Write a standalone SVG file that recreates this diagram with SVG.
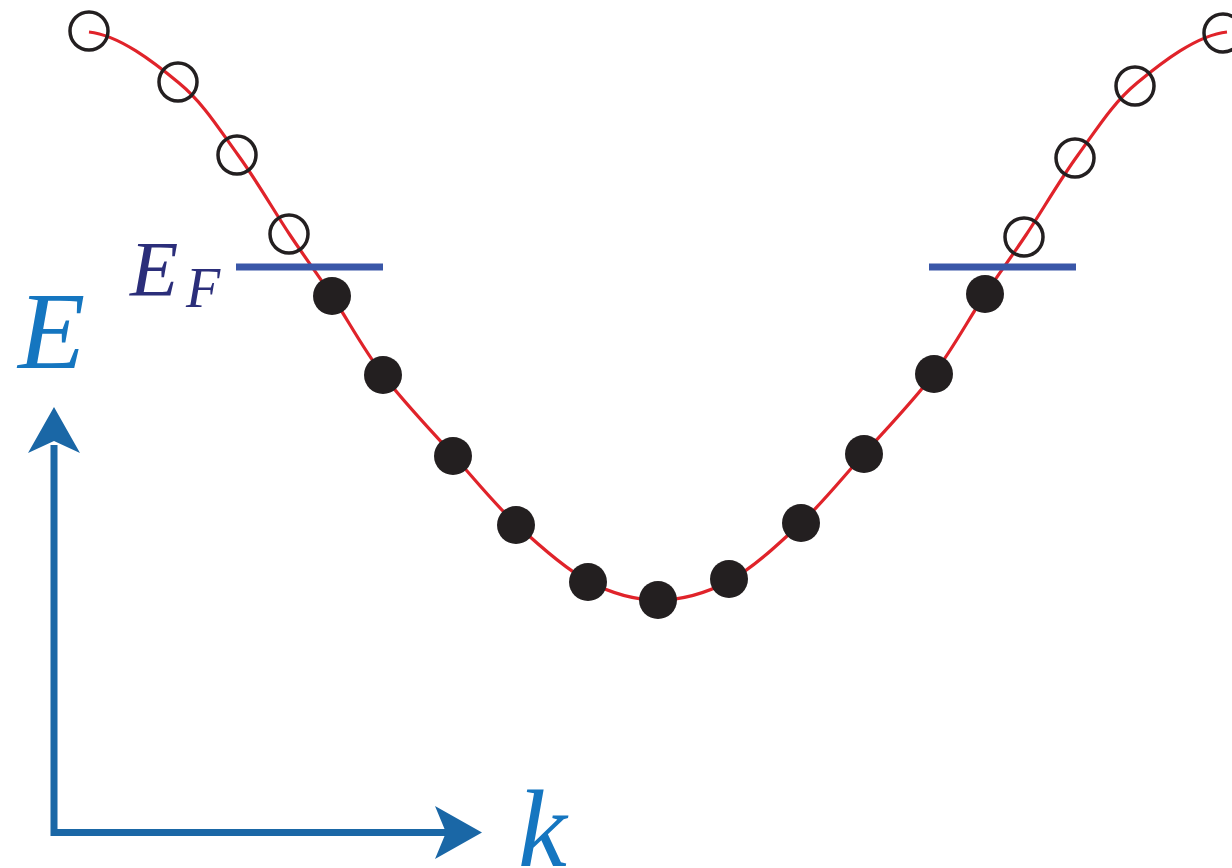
<svg xmlns="http://www.w3.org/2000/svg" width="1232" height="868" viewBox="0 0 1232 868">
<style>
.band{fill:none;stroke:#e0232a;stroke-width:3.2}
.empty{fill:none;stroke:#231f20;stroke-width:3.5}
.full{fill:#231f20}
.ef{stroke:#3a57a8;stroke-width:7}
.axis{stroke:#1a67a6;stroke-width:7;fill:none}
.head{fill:#1a67a6}
.lbl{font-family:"Liberation Serif",serif;font-style:italic;fill:#1576c0}
.efl{font-family:"Liberation Serif",serif;font-style:italic;fill:#2b2e7a}
</style>
<rect width="1232" height="868" fill="#fff"/>
<g id="connectors">
<path id="band" class="band" d="M89,32 C119,35 154.2,62.5 179,83 C203.8,103.5 219.5,129.7 238,155 C256.5,180.3 274.3,211.5 290,235 C305.7,258.5 316.5,272.7 332,296 C347.5,319.3 362.8,348.5 383,375 C403.2,401.5 430.8,430.2 453,455 C475.2,479.8 493.5,503 516,524 C538.5,545 564.3,568.3 588,581 C611.7,593.7 634.5,600 658,600 C681.5,600 705.3,593.7 729,581 C752.7,568.3 777.5,545 800,524 C822.5,503 840.8,479.8 863,455 C885.2,430.2 912.8,401.5 933,375 C953.2,348.5 968.5,319.3 984,296 C999.5,272.7 1010.3,258.5 1026,235 C1041.7,211.5 1059.5,180.3 1078,155 C1096.5,129.7 1112.2,103.5 1137,83 C1161.8,62.5 1197,35 1227,32"/>
</g>
<g id="fermi">
<line class="ef" x1="236" y1="267" x2="383" y2="267"/>
<line class="ef" x1="929" y1="267" x2="1076" y2="267"/>
<text class="efl" x="130" y="295" font-size="79">E</text>
<text class="efl" x="186" y="307" font-size="56">F</text>
</g>
<g id="empty-states">
<circle class="empty" cx="89" cy="31" r="19"/>
<circle class="empty" cx="178" cy="82" r="19"/>
<circle class="empty" cx="237" cy="155" r="19"/>
<circle class="empty" cx="289" cy="234" r="19"/>
<circle class="empty" cx="1024" cy="237" r="19"/>
<circle class="empty" cx="1075" cy="158" r="19"/>
<circle class="empty" cx="1135" cy="86" r="19"/>
<circle class="empty" cx="1223" cy="33" r="19"/>
</g>
<g id="filled-states">
<circle class="full" cx="332" cy="296" r="19"/>
<circle class="full" cx="383" cy="375" r="19"/>
<circle class="full" cx="453" cy="456" r="19"/>
<circle class="full" cx="516" cy="525" r="19"/>
<circle class="full" cx="588" cy="582" r="19"/>
<circle class="full" cx="658" cy="600" r="19"/>
<circle class="full" cx="729" cy="579" r="19"/>
<circle class="full" cx="801" cy="523" r="19"/>
<circle class="full" cx="864" cy="454" r="19"/>
<circle class="full" cx="934" cy="374" r="19"/>
<circle class="full" cx="985" cy="294" r="19"/>
</g>
<g id="axes">
<path class="axis" d="M54,445 L54,832.5 L446,832.5"/>
<polygon class="head" points="54,407 80,453 54,441 28,453"/>
<polygon class="head" points="482,832.5 435,859 446,832.5 435,806"/>
<text class="lbl" x="18" y="368" font-size="110">E</text>
<text class="lbl" x="518" y="866" font-size="110">k</text>
</g>
</svg>
